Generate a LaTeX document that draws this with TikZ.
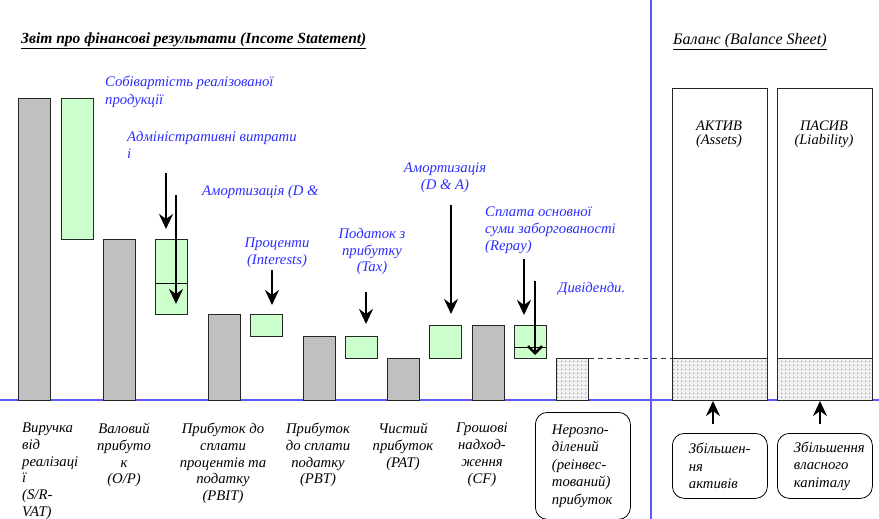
\documentclass[tikz,border=0pt]{standalone}
\usepackage{fontspec}
\setmainfont{Liberation Serif}
\usetikzlibrary{positioning}
\usetikzlibrary{arrows.meta}
\usetikzlibrary{patterns}
\definecolor{barGray}{RGB}{192,192,192}
\definecolor{barGreen}{RGB}{204,255,204}
\definecolor{labelBlue}{RGB}{45,45,255}
\definecolor{axisBlue}{RGB}{90,90,255}
\pgfdeclarepatternformonly{greydots}{\pgfpointorigin}{\pgfqpoint{4pt}{4pt}}{\pgfqpoint{4pt}{4pt}}{%
  \pgfpathcircle{\pgfqpoint{2pt}{2pt}}{0.95pt}\pgfusepath{fill}}
\tikzset{
  bar/.style={draw=black!85, line width=1pt, inner sep=0pt, anchor=north west, minimum width=32pt},
  graybar/.style={bar, fill=barGray},
  greenbar/.style={bar, fill=barGreen},
  dotbar/.style={bar, preaction={fill=gray!10}, pattern=greydots, pattern color=gray!70},
  lbl/.style={font=\itshape\fontsize{14.7}{16.7}\selectfont, inner sep=0pt, align=center, anchor=north},
  leftlbl/.style={lbl, align=left, anchor=north west},
  bluelbl/.style={lbl, text=labelBlue},
  roundbox/.style={draw, rounded corners=12pt, line width=0.8pt, anchor=north west, align=left,
    font=\itshape\fontsize{14.7}{17.5}\selectfont, minimum width=95pt, text width=62pt, inner xsep=16pt},
  arr/.style={-{Stealth[length=15pt,width=14pt,inset=5pt]}, line width=2.5pt},
  vee/.style={-{Straight Barb[length=7pt,width=14pt,line width=2.5pt]}, line width=2.5pt},
}
\begin{document}
\begin{tikzpicture}[x=1pt, y=-1pt]
	\useasboundingbox (0,0) rectangle (879,519);
	\clip (0,0) rectangle (879,519);

	% blue axes
	\coordinate (axL) at (0,400);
	\coordinate (axR) at (879,400);
	\coordinate (axT) at (651,0);
	\coordinate (axB) at (651,519);
	\draw[axisBlue, line width=1.2pt] (axL) -- (axR);
	\draw[axisBlue, line width=1.2pt] (axT) -- (axB);

	% titles
	\node[leftlbl, anchor=west, font=\bfseries\itshape\fontsize{15.5}{17}\selectfont] (isTitle) at (21,41) {\underline{Звіт про фінансові результати (Income Statement)}};
	\node[leftlbl, anchor=west, font=\itshape\fontsize{16}{17}\selectfont] (bsTitle) at (673,42) {\underline{Баланс (Balance Sheet)}};

	% income statement bars
	\node[graybar, minimum height=302pt] (rev) at (18,98) {};
	\node[greenbar, minimum height=141pt] (cogs) at (61,98) {};
	\node[graybar, minimum height=161pt] (gp) at (103,239) {};
	\node[greenbar, minimum height=75pt] (admin) at (155,239) {};
	\draw[line width=1pt] (155,283) -- (187,283);
	\node[graybar, minimum height=86pt] (pbit) at (208,314) {};
	\node[greenbar, minimum height=22pt] (inter) at (250,314) {};
	\node[graybar, minimum height=64pt] (pbt) at (303,336) {};
	\node[greenbar, minimum height=22pt] (tax) at (345,336) {};
	\node[graybar, minimum height=42pt] (pat) at (387,358) {};
	\node[greenbar, minimum height=33pt] (da) at (429,325) {};
	\node[graybar, minimum height=75pt] (cf) at (472,325) {};
	\node[greenbar, minimum height=33pt] (repay) at (514,325) {};
	\draw[line width=1pt] (514,347) -- (546,347);
	\node[dotbar, minimum height=42pt] (re) at (556,358) {};

	% balance sheet
	\node[bar, fill=white, minimum width=95pt, minimum height=312pt] (assets) at (672,88) {};
	\node[bar, fill=white, minimum width=95pt, minimum height=312pt] (liab) at (777,88) {};
	\node[dotbar, minimum width=95pt, minimum height=42pt] (assetsDot) at (672,358) {};
	\node[dotbar, minimum width=95pt, minimum height=42pt] (liabDot) at (777,358) {};
	\node[lbl, font=\itshape\fontsize{14.5}{14}\selectfont] (assetsTxt) at (719,121) {АКТИВ\\(Assets)};
	\node[lbl, font=\itshape\fontsize{14.5}{14}\selectfont] (liabTxt) at (824,121) {ПАСИВ\\(Liability)};
	\draw[dash pattern=on 5pt off 4pt, line width=1pt, black!80] (re.north east) -- (assetsDot.north west);

	% blue labels
	\node[bluelbl, align=left, anchor=north west, font=\itshape\fontsize{14.7}{18}\selectfont] (cogsTxt) at (105,76) {Собівартість реалізованої\\продукції};
	\node[bluelbl, align=left, anchor=north west] (adminTxt) at (127,131) {Адміністративні витрати\\і};
	\node[bluelbl, align=left, anchor=north west] (daTxtA) at (202,185) {Амортизація (D \&};
	\node[bluelbl] (interTxt) at (277,238) {Проценти\\(Interests)};
	\node[bluelbl] (taxTxt) at (372,228) {Податок з\\прибутку\\(Tax)};
	\node[bluelbl] (daTxtB) at (445,163) {Амортизація\\(D \& A)};
	\node[bluelbl, align=left, anchor=north west] (repayTxt) at (485,207) {Сплата основної\\суми заборгованості\\(Repay)};
	\node[bluelbl, align=left, anchor=north west] (divTxt) at (558,282) {Дивіденди.};

	% arrows
	\coordinate (a1s) at (166,173); \coordinate (a1e) at (166,229);
	\coordinate (a2s) at (176,195); \coordinate (a2e) at (176,304);
	\coordinate (a3s) at (272,270); \coordinate (a3e) at (272,305);
	\coordinate (a4s) at (366,292); \coordinate (a4e) at (366,324);
	\coordinate (a5s) at (451,205); \coordinate (a5e) at (451,314);
	\coordinate (a6s) at (524,259); \coordinate (a6e) at (524,315);
	\coordinate (a7s) at (535,281); \coordinate (a7e) at (535,355);
	\draw[arr] (a1s) -- (a1e);
	\draw[arr] (a2s) -- (a2e);
	\draw[arr] (a3s) -- (a3e);
	\draw[arr] (a4s) -- (a4e);
	\draw[arr] (a5s) -- (a5e);
	\draw[arr] (a6s) -- (a6e);
	\draw[vee] (a7s) -- (a7e);

	% bottom labels
	\node[leftlbl] (revTxt) at (22,423) {Виручка\\від\\реалізаці\\ї\\(S/R-\\VAT)};
	\node[lbl] (gpTxt) at (124,423) {Валовий\\прибуто\\к\\(O/P)};
	\node[lbl] (pbitTxt) at (223,423) {Прибуток до\\сплати\\процентів та\\податку\\(PBIT)};
	\node[lbl] (pbtTxt) at (318,423) {Прибуток\\до сплати\\податку\\(PBT)};
	\node[lbl] (patTxt) at (403,423) {Чистий\\прибуток\\(PAT)};
	\node[lbl] (cfTxt) at (482,423) {Грошові\\надход-\\ження\\(CF)};
	\node[roundbox, minimum height=107pt] (reBox) at (535,412) {Нерозпо-\\ділений\\(реінвес-\\тований)\\прибуток};
	\node[roundbox, minimum height=65pt] (incA) at (672,433) {Збільшен-\\ня\\активів};
	\node[roundbox, minimum height=65pt] (incL) at (777,433) {Збільшення\\власного\\капіталу};

	% up arrows
	\coordinate (upAs) at (713,424); \coordinate (upAe) at (713,401);
	\coordinate (upLs) at (820,424); \coordinate (upLe) at (820,401);
	\draw[arr] (upAs) -- (upAe);
	\draw[arr] (upLs) -- (upLe);
\end{tikzpicture}
\end{document}
